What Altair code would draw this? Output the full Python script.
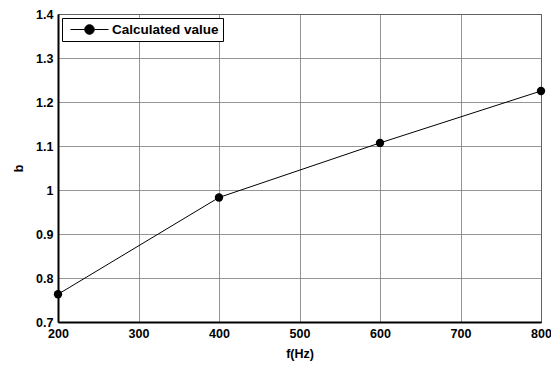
import altair as alt
import pandas as pd

freq = [200, 400, 600, 800]
b_vals = [0.763, 0.983, 1.107, 1.225]
series = ["Calculated value"] * 4
x_ticks = [200, 300, 400, 500, 600, 700, 800]
y_ticks = [0.7, 0.8, 0.9, 1.0, 1.1, 1.2, 1.3, 1.4]

df = pd.DataFrame({"f": freq, "b": b_vals, "s": series})

FONT = "Liberation Sans"

x = alt.X("f:Q", scale=alt.Scale(domain=[200, 800], nice=False),
          axis=alt.Axis(title="f(Hz)", values=x_ticks, labelFlush=False, labelOverlap=False))
y = alt.Y("b:Q", scale=alt.Scale(domain=[0.7, 1.4], nice=False, zero=False),
          axis=alt.Axis(title="b", values=y_ticks, format="~g", labelOverlap=False))
color = alt.Color("s:N", scale=alt.Scale(range=["black"]),
                  legend=alt.Legend(title=None, orient="top-left", offset=4,
                                    symbolType="M-1,0H-0.25M0.25,0H1M-0.25,0A0.25,0.25 0 1,0 0.25,0A0.25,0.25 0 1,0 -0.25,0Z",
                                    symbolSize=1444, symbolStrokeWidth=1,
                                    symbolFillColor="black", symbolStrokeColor="black",
                                    clipHeight=15, labelOffset=3, symbolOffset=4,
                                    padding=4, strokeColor="black", fillColor="white",
                                    labelFont=FONT, labelFontWeight="bold", labelFontSize=13.5,
                                    labelColor="black"))

line = alt.Chart(df).mark_line(strokeWidth=1).encode(x=x, y=y, color=color)
pts = alt.Chart(df).mark_circle(size=70, opacity=1).encode(
    x=x, y=y, color=alt.Color("s:N", scale=alt.Scale(range=["black"]), legend=None))

chart = alt.layer(line, pts).properties(
    width=483, height=308,
    autosize=alt.AutoSizeParams(type="none"),
    padding={"left": 50, "top": 6, "right": 10, "bottom": 39},
).configure_view(
    stroke="black", strokeWidth=1
).configure_axis(
    labelFont=FONT, labelFontWeight="bold", labelFontSize=12.5, labelColor="black",
    titleFont=FONT, titleFontWeight="bold", titleFontSize=12.5, titleColor="black",
    grid=True, gridColor="#7a7a7a", gridWidth=0.8, gridOpacity=1,
    domainColor="black", domainWidth=2, ticks=False, labelPadding=5,
).configure_axisX(
    titlePadding=8,
).configure_axisY(
    titlePadding=10,
)

chart.save("out.html", embed_options={"renderer": "svg", "actions": False})
